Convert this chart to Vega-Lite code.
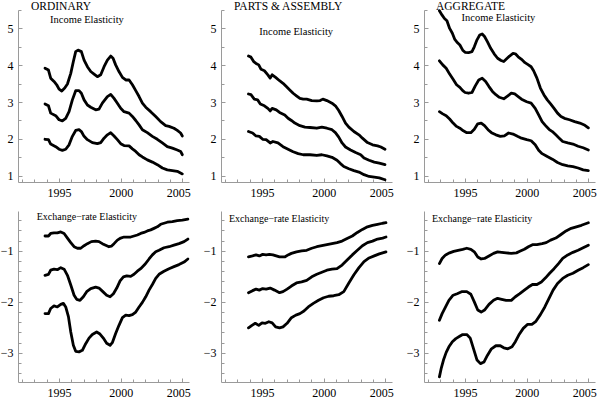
{
"$schema":"https://vega.github.io/schema/vega-lite/v6.json",
"padding":0,
"background":"white",
"columns":3,
"spacing":{"row":13,"column":12},
"datasets":{"d":[
{"panel":"A","band":"u","year":1993.86,"value":3.92},{"panel":"A","band":"u","year":1994.14,"value":3.87},{"panel":"A","band":"u","year":1994.32,"value":3.65},{"panel":"A","band":"u","year":1994.59,"value":3.56},{"panel":"A","band":"u","year":1994.81,"value":3.47},{"panel":"A","band":"u","year":1995.0,"value":3.35},{"panel":"A","band":"u","year":1995.22,"value":3.30},{"panel":"A","band":"u","year":1995.46,"value":3.38},{"panel":"A","band":"u","year":1995.68,"value":3.49},{"panel":"A","band":"u","year":1995.95,"value":3.78},{"panel":"A","band":"u","year":1996.16,"value":4.10},{"panel":"A","band":"u","year":1996.35,"value":4.37},{"panel":"A","band":"u","year":1996.54,"value":4.41},{"panel":"A","band":"u","year":1996.81,"value":4.37},{"panel":"A","band":"u","year":1997.03,"value":4.14},{"panel":"A","band":"u","year":1997.30,"value":3.96},{"panel":"A","band":"u","year":1997.57,"value":3.83},{"panel":"A","band":"u","year":1997.84,"value":3.76},{"panel":"A","band":"u","year":1998.11,"value":3.69},{"panel":"A","band":"u","year":1998.38,"value":3.74},{"panel":"A","band":"u","year":1998.65,"value":3.96},{"panel":"A","band":"u","year":1998.92,"value":4.14},{"panel":"A","band":"u","year":1999.19,"value":4.25},{"panel":"A","band":"u","year":1999.38,"value":4.19},{"panel":"A","band":"u","year":1999.59,"value":4.01},{"panel":"A","band":"u","year":1999.86,"value":3.83},{"panel":"A","band":"u","year":2000.14,"value":3.67},{"panel":"A","band":"u","year":2000.41,"value":3.60},{"panel":"A","band":"u","year":2000.68,"value":3.60},{"panel":"A","band":"u","year":2000.95,"value":3.47},{"panel":"A","band":"u","year":2001.22,"value":3.31},{"panel":"A","band":"u","year":2001.49,"value":3.15},{"panel":"A","band":"u","year":2001.76,"value":2.97},{"panel":"A","band":"u","year":2002.03,"value":2.86},{"panel":"A","band":"u","year":2002.43,"value":2.74},{"panel":"A","band":"u","year":2002.84,"value":2.61},{"panel":"A","band":"u","year":2003.24,"value":2.47},{"panel":"A","band":"u","year":2003.65,"value":2.36},{"panel":"A","band":"u","year":2003.92,"value":2.34},{"panel":"A","band":"u","year":2004.32,"value":2.29},{"panel":"A","band":"u","year":2004.59,"value":2.23},{"panel":"A","band":"u","year":2004.86,"value":2.16},{"panel":"A","band":"u","year":2005.0,"value":2.08},
{"panel":"A","band":"m","year":1993.86,"value":2.95},{"panel":"A","band":"m","year":1994.14,"value":2.90},{"panel":"A","band":"m","year":1994.32,"value":2.70},{"panel":"A","band":"m","year":1994.73,"value":2.63},{"panel":"A","band":"m","year":1995.0,"value":2.52},{"panel":"A","band":"m","year":1995.27,"value":2.49},{"panel":"A","band":"m","year":1995.54,"value":2.56},{"panel":"A","band":"m","year":1995.81,"value":2.74},{"panel":"A","band":"m","year":1996.08,"value":3.06},{"panel":"A","band":"m","year":1996.35,"value":3.31},{"panel":"A","band":"m","year":1996.62,"value":3.31},{"panel":"A","band":"m","year":1996.81,"value":3.24},{"panel":"A","band":"m","year":1997.03,"value":3.06},{"panel":"A","band":"m","year":1997.30,"value":2.92},{"panel":"A","band":"m","year":1997.57,"value":2.86},{"panel":"A","band":"m","year":1997.97,"value":2.79},{"panel":"A","band":"m","year":1998.24,"value":2.81},{"panel":"A","band":"m","year":1998.51,"value":2.97},{"panel":"A","band":"m","year":1998.92,"value":3.15},{"panel":"A","band":"m","year":1999.19,"value":3.21},{"panel":"A","band":"m","year":1999.46,"value":3.10},{"panel":"A","band":"m","year":1999.73,"value":2.97},{"panel":"A","band":"m","year":2000.0,"value":2.83},{"panel":"A","band":"m","year":2000.27,"value":2.74},{"panel":"A","band":"m","year":2000.68,"value":2.70},{"panel":"A","band":"m","year":2000.95,"value":2.61},{"panel":"A","band":"m","year":2001.22,"value":2.50},{"panel":"A","band":"m","year":2001.49,"value":2.38},{"panel":"A","band":"m","year":2001.76,"value":2.25},{"panel":"A","band":"m","year":2002.16,"value":2.17},{"panel":"A","band":"m","year":2002.57,"value":2.07},{"panel":"A","band":"m","year":2002.97,"value":1.99},{"panel":"A","band":"m","year":2003.38,"value":1.89},{"panel":"A","band":"m","year":2003.78,"value":1.79},{"panel":"A","band":"m","year":2004.19,"value":1.75},{"panel":"A","band":"m","year":2004.59,"value":1.70},{"panel":"A","band":"m","year":2004.86,"value":1.66},{"panel":"A","band":"m","year":2005.0,"value":1.57},
{"panel":"A","band":"l","year":1993.86,"value":1.99},{"panel":"A","band":"l","year":1994.14,"value":1.98},{"panel":"A","band":"l","year":1994.32,"value":1.86},{"panel":"A","band":"l","year":1994.73,"value":1.79},{"panel":"A","band":"l","year":1995.0,"value":1.72},{"panel":"A","band":"l","year":1995.27,"value":1.69},{"panel":"A","band":"l","year":1995.54,"value":1.72},{"panel":"A","band":"l","year":1995.81,"value":1.84},{"panel":"A","band":"l","year":1996.08,"value":2.07},{"panel":"A","band":"l","year":1996.35,"value":2.23},{"panel":"A","band":"l","year":1996.62,"value":2.25},{"panel":"A","band":"l","year":1996.81,"value":2.20},{"panel":"A","band":"l","year":1997.03,"value":2.07},{"panel":"A","band":"l","year":1997.30,"value":1.98},{"panel":"A","band":"l","year":1997.70,"value":1.90},{"panel":"A","band":"l","year":1998.11,"value":1.87},{"panel":"A","band":"l","year":1998.38,"value":1.90},{"panel":"A","band":"l","year":1998.65,"value":2.02},{"panel":"A","band":"l","year":1998.92,"value":2.11},{"panel":"A","band":"l","year":1999.19,"value":2.17},{"panel":"A","band":"l","year":1999.46,"value":2.08},{"panel":"A","band":"l","year":1999.73,"value":1.98},{"panel":"A","band":"l","year":2000.0,"value":1.87},{"panel":"A","band":"l","year":2000.27,"value":1.82},{"panel":"A","band":"l","year":2000.68,"value":1.81},{"panel":"A","band":"l","year":2000.95,"value":1.73},{"panel":"A","band":"l","year":2001.22,"value":1.66},{"panel":"A","band":"l","year":2001.49,"value":1.57},{"panel":"A","band":"l","year":2001.76,"value":1.51},{"panel":"A","band":"l","year":2002.16,"value":1.43},{"panel":"A","band":"l","year":2002.57,"value":1.37},{"panel":"A","band":"l","year":2002.97,"value":1.30},{"panel":"A","band":"l","year":2003.38,"value":1.21},{"panel":"A","band":"l","year":2003.78,"value":1.16},{"panel":"A","band":"l","year":2004.19,"value":1.14},{"panel":"A","band":"l","year":2004.59,"value":1.12},{"panel":"A","band":"l","year":2005.0,"value":1.05},
{"panel":"B","band":"u","year":1993.90,"value":4.25},{"panel":"B","band":"u","year":1994.10,"value":4.22},{"panel":"B","band":"u","year":1994.32,"value":4.10},{"panel":"B","band":"u","year":1994.51,"value":4.05},{"panel":"B","band":"u","year":1994.73,"value":4.01},{"panel":"B","band":"u","year":1994.92,"value":3.89},{"panel":"B","band":"u","year":1995.19,"value":3.85},{"panel":"B","band":"u","year":1995.47,"value":3.74},{"panel":"B","band":"u","year":1995.66,"value":3.65},{"panel":"B","band":"u","year":1995.82,"value":3.74},{"panel":"B","band":"u","year":1996.10,"value":3.67},{"panel":"B","band":"u","year":1996.42,"value":3.58},{"panel":"B","band":"u","year":1996.70,"value":3.51},{"panel":"B","band":"u","year":1996.97,"value":3.42},{"panel":"B","band":"u","year":1997.25,"value":3.33},{"panel":"B","band":"u","year":1997.52,"value":3.24},{"panel":"B","band":"u","year":1997.79,"value":3.17},{"panel":"B","band":"u","year":1998.07,"value":3.10},{"panel":"B","band":"u","year":1998.34,"value":3.08},{"panel":"B","band":"u","year":1998.62,"value":3.08},{"panel":"B","band":"u","year":1999.03,"value":3.04},{"panel":"B","band":"u","year":1999.44,"value":3.03},{"panel":"B","band":"u","year":1999.71,"value":3.04},{"panel":"B","band":"u","year":1999.93,"value":3.08},{"panel":"B","band":"u","year":2000.26,"value":3.04},{"panel":"B","band":"u","year":2000.67,"value":2.97},{"panel":"B","band":"u","year":2000.95,"value":2.90},{"panel":"B","band":"u","year":2001.22,"value":2.77},{"panel":"B","band":"u","year":2001.49,"value":2.61},{"panel":"B","band":"u","year":2001.77,"value":2.43},{"panel":"B","band":"u","year":2002.04,"value":2.32},{"panel":"B","band":"u","year":2002.45,"value":2.20},{"panel":"B","band":"u","year":2002.86,"value":2.11},{"panel":"B","band":"u","year":2003.14,"value":2.02},{"panel":"B","band":"u","year":2003.55,"value":1.90},{"panel":"B","band":"u","year":2003.96,"value":1.84},{"panel":"B","band":"u","year":2004.37,"value":1.81},{"panel":"B","band":"u","year":2004.64,"value":1.78},{"panel":"B","band":"u","year":2004.97,"value":1.72},
{"panel":"B","band":"m","year":1993.90,"value":3.22},{"panel":"B","band":"m","year":1994.10,"value":3.20},{"panel":"B","band":"m","year":1994.37,"value":3.08},{"panel":"B","band":"m","year":1994.64,"value":3.06},{"panel":"B","band":"m","year":1994.86,"value":2.95},{"panel":"B","band":"m","year":1995.19,"value":2.90},{"panel":"B","band":"m","year":1995.47,"value":2.83},{"panel":"B","band":"m","year":1995.66,"value":2.76},{"panel":"B","band":"m","year":1995.82,"value":2.83},{"panel":"B","band":"m","year":1996.15,"value":2.79},{"panel":"B","band":"m","year":1996.42,"value":2.72},{"panel":"B","band":"m","year":1996.84,"value":2.65},{"panel":"B","band":"m","year":1997.11,"value":2.56},{"panel":"B","band":"m","year":1997.38,"value":2.50},{"panel":"B","band":"m","year":1997.66,"value":2.43},{"panel":"B","band":"m","year":1998.07,"value":2.36},{"panel":"B","band":"m","year":1998.48,"value":2.32},{"panel":"B","band":"m","year":1998.89,"value":2.31},{"panel":"B","band":"m","year":1999.44,"value":2.29},{"panel":"B","band":"m","year":1999.85,"value":2.32},{"panel":"B","band":"m","year":2000.26,"value":2.29},{"panel":"B","band":"m","year":2000.67,"value":2.25},{"panel":"B","band":"m","year":2000.95,"value":2.17},{"panel":"B","band":"m","year":2001.22,"value":2.05},{"panel":"B","band":"m","year":2001.49,"value":1.89},{"panel":"B","band":"m","year":2001.77,"value":1.78},{"panel":"B","band":"m","year":2002.18,"value":1.70},{"panel":"B","band":"m","year":2002.59,"value":1.63},{"panel":"B","band":"m","year":2003.0,"value":1.57},{"panel":"B","band":"m","year":2003.27,"value":1.48},{"panel":"B","band":"m","year":2003.68,"value":1.42},{"panel":"B","band":"m","year":2004.10,"value":1.37},{"panel":"B","band":"m","year":2004.51,"value":1.34},{"panel":"B","band":"m","year":2004.97,"value":1.30},
{"panel":"B","band":"l","year":1993.90,"value":2.20},{"panel":"B","band":"l","year":1994.23,"value":2.16},{"panel":"B","band":"l","year":1994.51,"value":2.08},{"panel":"B","band":"l","year":1994.78,"value":2.07},{"panel":"B","band":"l","year":1995.05,"value":1.99},{"panel":"B","band":"l","year":1995.33,"value":1.98},{"panel":"B","band":"l","year":1995.66,"value":1.89},{"panel":"B","band":"l","year":1995.88,"value":1.93},{"panel":"B","band":"l","year":1996.29,"value":1.89},{"panel":"B","band":"l","year":1996.70,"value":1.79},{"panel":"B","band":"l","year":1997.11,"value":1.72},{"panel":"B","band":"l","year":1997.52,"value":1.65},{"panel":"B","band":"l","year":1997.93,"value":1.60},{"panel":"B","band":"l","year":1998.34,"value":1.57},{"panel":"B","band":"l","year":1998.89,"value":1.57},{"panel":"B","band":"l","year":1999.44,"value":1.55},{"panel":"B","band":"l","year":1999.85,"value":1.57},{"panel":"B","band":"l","year":2000.26,"value":1.54},{"panel":"B","band":"l","year":2000.67,"value":1.50},{"panel":"B","band":"l","year":2001.08,"value":1.42},{"panel":"B","band":"l","year":2001.36,"value":1.33},{"panel":"B","band":"l","year":2001.63,"value":1.25},{"panel":"B","band":"l","year":2002.04,"value":1.19},{"panel":"B","band":"l","year":2002.45,"value":1.14},{"panel":"B","band":"l","year":2002.86,"value":1.10},{"panel":"B","band":"l","year":2003.27,"value":1.03},{"panel":"B","band":"l","year":2003.68,"value":0.98},{"panel":"B","band":"l","year":2004.10,"value":0.96},{"panel":"B","band":"l","year":2004.51,"value":0.94},{"panel":"B","band":"l","year":2004.97,"value":0.89},
{"panel":"C","band":"u","year":1992.92,"value":5.48},{"panel":"C","band":"u","year":1993.14,"value":5.36},{"panel":"C","band":"u","year":1993.33,"value":5.27},{"panel":"C","band":"u","year":1993.53,"value":5.21},{"panel":"C","band":"u","year":1993.75,"value":5.00},{"panel":"C","band":"u","year":1993.97,"value":4.87},{"panel":"C","band":"u","year":1994.17,"value":4.70},{"panel":"C","band":"u","year":1994.39,"value":4.61},{"panel":"C","band":"u","year":1994.58,"value":4.55},{"panel":"C","band":"u","year":1994.81,"value":4.41},{"panel":"C","band":"u","year":1995.0,"value":4.35},{"panel":"C","band":"u","year":1995.28,"value":4.34},{"panel":"C","band":"u","year":1995.56,"value":4.37},{"panel":"C","band":"u","year":1995.75,"value":4.50},{"panel":"C","band":"u","year":1995.97,"value":4.69},{"panel":"C","band":"u","year":1996.19,"value":4.82},{"panel":"C","band":"u","year":1996.39,"value":4.85},{"panel":"C","band":"u","year":1996.58,"value":4.78},{"panel":"C","band":"u","year":1996.81,"value":4.64},{"panel":"C","band":"u","year":1997.08,"value":4.46},{"panel":"C","band":"u","year":1997.36,"value":4.31},{"panel":"C","band":"u","year":1997.64,"value":4.19},{"panel":"C","band":"u","year":1997.92,"value":4.13},{"panel":"C","band":"u","year":1998.14,"value":4.10},{"panel":"C","band":"u","year":1998.33,"value":4.16},{"panel":"C","band":"u","year":1998.61,"value":4.25},{"panel":"C","band":"u","year":1998.89,"value":4.32},{"panel":"C","band":"u","year":1999.08,"value":4.31},{"panel":"C","band":"u","year":1999.31,"value":4.23},{"panel":"C","band":"u","year":1999.58,"value":4.16},{"panel":"C","band":"u","year":1999.86,"value":4.07},{"panel":"C","band":"u","year":2000.14,"value":4.01},{"panel":"C","band":"u","year":2000.36,"value":3.96},{"panel":"C","band":"u","year":2000.56,"value":3.85},{"panel":"C","band":"u","year":2000.83,"value":3.65},{"panel":"C","band":"u","year":2001.11,"value":3.38},{"panel":"C","band":"u","year":2001.39,"value":3.20},{"panel":"C","band":"u","year":2001.67,"value":3.06},{"panel":"C","band":"u","year":2001.94,"value":2.95},{"panel":"C","band":"u","year":2002.22,"value":2.83},{"panel":"C","band":"u","year":2002.50,"value":2.70},{"panel":"C","band":"u","year":2002.78,"value":2.61},{"panel":"C","band":"u","year":2003.06,"value":2.56},{"panel":"C","band":"u","year":2003.47,"value":2.52},{"panel":"C","band":"u","year":2003.89,"value":2.47},{"panel":"C","band":"u","year":2004.31,"value":2.43},{"panel":"C","band":"u","year":2004.72,"value":2.37},{"panel":"C","band":"u","year":2005.0,"value":2.30},
{"panel":"C","band":"m","year":1992.92,"value":4.12},{"panel":"C","band":"m","year":1993.19,"value":4.01},{"panel":"C","band":"m","year":1993.47,"value":3.92},{"panel":"C","band":"m","year":1993.75,"value":3.76},{"panel":"C","band":"m","year":1994.03,"value":3.62},{"panel":"C","band":"m","year":1994.31,"value":3.47},{"panel":"C","band":"m","year":1994.58,"value":3.40},{"panel":"C","band":"m","year":1994.81,"value":3.31},{"panel":"C","band":"m","year":1995.0,"value":3.26},{"panel":"C","band":"m","year":1995.28,"value":3.24},{"panel":"C","band":"m","year":1995.56,"value":3.26},{"panel":"C","band":"m","year":1995.83,"value":3.44},{"panel":"C","band":"m","year":1996.11,"value":3.60},{"panel":"C","band":"m","year":1996.39,"value":3.65},{"panel":"C","band":"m","year":1996.67,"value":3.56},{"panel":"C","band":"m","year":1996.94,"value":3.42},{"panel":"C","band":"m","year":1997.22,"value":3.29},{"panel":"C","band":"m","year":1997.50,"value":3.20},{"panel":"C","band":"m","year":1997.78,"value":3.13},{"panel":"C","band":"m","year":1998.14,"value":3.09},{"panel":"C","band":"m","year":1998.47,"value":3.17},{"panel":"C","band":"m","year":1998.75,"value":3.24},{"panel":"C","band":"m","year":1999.03,"value":3.22},{"panel":"C","band":"m","year":1999.31,"value":3.15},{"panel":"C","band":"m","year":1999.58,"value":3.08},{"panel":"C","band":"m","year":2000.0,"value":3.01},{"panel":"C","band":"m","year":2000.36,"value":2.97},{"panel":"C","band":"m","year":2000.69,"value":2.83},{"panel":"C","band":"m","year":2000.97,"value":2.65},{"panel":"C","band":"m","year":2001.25,"value":2.47},{"panel":"C","band":"m","year":2001.53,"value":2.36},{"panel":"C","band":"m","year":2001.81,"value":2.26},{"panel":"C","band":"m","year":2002.08,"value":2.20},{"panel":"C","band":"m","year":2002.36,"value":2.11},{"panel":"C","band":"m","year":2002.64,"value":2.02},{"panel":"C","band":"m","year":2002.92,"value":1.93},{"panel":"C","band":"m","year":2003.33,"value":1.89},{"panel":"C","band":"m","year":2003.75,"value":1.86},{"panel":"C","band":"m","year":2004.17,"value":1.80},{"panel":"C","band":"m","year":2004.58,"value":1.76},{"panel":"C","band":"m","year":2005.0,"value":1.70},
{"panel":"C","band":"l","year":1992.92,"value":2.74},{"panel":"C","band":"l","year":1993.19,"value":2.68},{"panel":"C","band":"l","year":1993.47,"value":2.63},{"panel":"C","band":"l","year":1993.75,"value":2.54},{"panel":"C","band":"l","year":1994.03,"value":2.43},{"panel":"C","band":"l","year":1994.31,"value":2.34},{"panel":"C","band":"l","year":1994.58,"value":2.29},{"panel":"C","band":"l","year":1994.86,"value":2.22},{"panel":"C","band":"l","year":1995.14,"value":2.17},{"panel":"C","band":"l","year":1995.47,"value":2.17},{"panel":"C","band":"l","year":1995.75,"value":2.26},{"panel":"C","band":"l","year":1996.03,"value":2.41},{"panel":"C","band":"l","year":1996.31,"value":2.43},{"panel":"C","band":"l","year":1996.58,"value":2.36},{"panel":"C","band":"l","year":1996.86,"value":2.25},{"panel":"C","band":"l","year":1997.14,"value":2.17},{"panel":"C","band":"l","year":1997.50,"value":2.11},{"panel":"C","band":"l","year":1997.86,"value":2.07},{"panel":"C","band":"l","year":1998.19,"value":2.08},{"panel":"C","band":"l","year":1998.53,"value":2.16},{"panel":"C","band":"l","year":1998.89,"value":2.13},{"panel":"C","band":"l","year":1999.25,"value":2.07},{"panel":"C","band":"l","year":1999.58,"value":2.02},{"panel":"C","band":"l","year":2000.0,"value":1.98},{"panel":"C","band":"l","year":2000.36,"value":1.95},{"panel":"C","band":"l","year":2000.69,"value":1.84},{"panel":"C","band":"l","year":2000.97,"value":1.69},{"panel":"C","band":"l","year":2001.25,"value":1.60},{"panel":"C","band":"l","year":2001.67,"value":1.52},{"panel":"C","band":"l","year":2002.08,"value":1.45},{"panel":"C","band":"l","year":2002.50,"value":1.36},{"panel":"C","band":"l","year":2002.92,"value":1.30},{"panel":"C","band":"l","year":2003.33,"value":1.27},{"panel":"C","band":"l","year":2003.75,"value":1.25},{"panel":"C","band":"l","year":2004.17,"value":1.21},{"panel":"C","band":"l","year":2004.58,"value":1.16},{"panel":"C","band":"l","year":2005.0,"value":1.14},
{"panel":"D","band":"u","year":1993.86,"value":-0.71},{"panel":"D","band":"u","year":1994.14,"value":-0.71},{"panel":"D","band":"u","year":1994.32,"value":-0.66},{"panel":"D","band":"u","year":1994.59,"value":-0.65},{"panel":"D","band":"u","year":1994.86,"value":-0.65},{"panel":"D","band":"u","year":1995.14,"value":-0.63},{"panel":"D","band":"u","year":1995.41,"value":-0.66},{"panel":"D","band":"u","year":1995.68,"value":-0.75},{"panel":"D","band":"u","year":1995.95,"value":-0.84},{"panel":"D","band":"u","year":1996.22,"value":-0.92},{"panel":"D","band":"u","year":1996.49,"value":-0.95},{"panel":"D","band":"u","year":1996.76,"value":-0.95},{"panel":"D","band":"u","year":1997.03,"value":-0.90},{"panel":"D","band":"u","year":1997.30,"value":-0.86},{"panel":"D","band":"u","year":1997.62,"value":-0.82},{"panel":"D","band":"u","year":1997.97,"value":-0.81},{"panel":"D","band":"u","year":1998.24,"value":-0.82},{"panel":"D","band":"u","year":1998.51,"value":-0.86},{"panel":"D","band":"u","year":1998.78,"value":-0.89},{"panel":"D","band":"u","year":1999.05,"value":-0.92},{"panel":"D","band":"u","year":1999.24,"value":-0.91},{"panel":"D","band":"u","year":1999.46,"value":-0.86},{"panel":"D","band":"u","year":1999.73,"value":-0.79},{"panel":"D","band":"u","year":2000.0,"value":-0.75},{"panel":"D","band":"u","year":2000.27,"value":-0.73},{"panel":"D","band":"u","year":2000.54,"value":-0.73},{"panel":"D","band":"u","year":2000.81,"value":-0.73},{"panel":"D","band":"u","year":2001.08,"value":-0.71},{"panel":"D","band":"u","year":2001.35,"value":-0.69},{"panel":"D","band":"u","year":2001.62,"value":-0.66},{"panel":"D","band":"u","year":2001.89,"value":-0.64},{"panel":"D","band":"u","year":2002.16,"value":-0.61},{"panel":"D","band":"u","year":2002.43,"value":-0.59},{"panel":"D","band":"u","year":2002.70,"value":-0.56},{"panel":"D","band":"u","year":2002.97,"value":-0.53},{"panel":"D","band":"u","year":2003.24,"value":-0.48},{"panel":"D","band":"u","year":2003.51,"value":-0.46},{"panel":"D","band":"u","year":2003.78,"value":-0.44},{"panel":"D","band":"u","year":2004.19,"value":-0.43},{"panel":"D","band":"u","year":2004.59,"value":-0.41},{"panel":"D","band":"u","year":2005.0,"value":-0.40},{"panel":"D","band":"u","year":2005.45,"value":-0.38},
{"panel":"D","band":"m","year":1993.86,"value":-1.48},{"panel":"D","band":"m","year":1994.14,"value":-1.46},{"panel":"D","band":"m","year":1994.32,"value":-1.38},{"panel":"D","band":"m","year":1994.59,"value":-1.36},{"panel":"D","band":"m","year":1994.86,"value":-1.37},{"panel":"D","band":"m","year":1995.14,"value":-1.33},{"panel":"D","band":"m","year":1995.41,"value":-1.36},{"panel":"D","band":"m","year":1995.68,"value":-1.48},{"panel":"D","band":"m","year":1995.95,"value":-1.67},{"panel":"D","band":"m","year":1996.22,"value":-1.87},{"panel":"D","band":"m","year":1996.43,"value":-1.95},{"panel":"D","band":"m","year":1996.70,"value":-1.97},{"panel":"D","band":"m","year":1996.97,"value":-1.90},{"panel":"D","band":"m","year":1997.24,"value":-1.80},{"panel":"D","band":"m","year":1997.57,"value":-1.74},{"panel":"D","band":"m","year":1997.97,"value":-1.71},{"panel":"D","band":"m","year":1998.24,"value":-1.73},{"panel":"D","band":"m","year":1998.51,"value":-1.79},{"panel":"D","band":"m","year":1998.86,"value":-1.87},{"panel":"D","band":"m","year":1999.14,"value":-1.90},{"panel":"D","band":"m","year":1999.41,"value":-1.84},{"panel":"D","band":"m","year":1999.68,"value":-1.73},{"panel":"D","band":"m","year":1999.95,"value":-1.59},{"panel":"D","band":"m","year":2000.22,"value":-1.51},{"panel":"D","band":"m","year":2000.49,"value":-1.49},{"panel":"D","band":"m","year":2000.81,"value":-1.50},{"panel":"D","band":"m","year":2001.08,"value":-1.46},{"panel":"D","band":"m","year":2001.35,"value":-1.40},{"panel":"D","band":"m","year":2001.62,"value":-1.35},{"panel":"D","band":"m","year":2001.95,"value":-1.27},{"panel":"D","band":"m","year":2002.30,"value":-1.16},{"panel":"D","band":"m","year":2002.57,"value":-1.08},{"panel":"D","band":"m","year":2002.84,"value":-1.02},{"panel":"D","band":"m","year":2003.11,"value":-0.99},{"panel":"D","band":"m","year":2003.51,"value":-0.94},{"panel":"D","band":"m","year":2003.92,"value":-0.92},{"panel":"D","band":"m","year":2004.32,"value":-0.89},{"panel":"D","band":"m","year":2004.73,"value":-0.86},{"panel":"D","band":"m","year":2005.14,"value":-0.82},{"panel":"D","band":"m","year":2005.45,"value":-0.77},
{"panel":"D","band":"l","year":1993.86,"value":-2.23},{"panel":"D","band":"l","year":1994.14,"value":-2.23},{"panel":"D","band":"l","year":1994.32,"value":-2.13},{"panel":"D","band":"l","year":1994.59,"value":-2.08},{"panel":"D","band":"l","year":1994.86,"value":-2.10},{"panel":"D","band":"l","year":1995.14,"value":-2.05},{"panel":"D","band":"l","year":1995.35,"value":-2.03},{"panel":"D","band":"l","year":1995.54,"value":-2.10},{"panel":"D","band":"l","year":1995.76,"value":-2.29},{"panel":"D","band":"l","year":1995.95,"value":-2.59},{"panel":"D","band":"l","year":1996.16,"value":-2.85},{"panel":"D","band":"l","year":1996.35,"value":-2.97},{"panel":"D","band":"l","year":1996.62,"value":-2.98},{"panel":"D","band":"l","year":1996.89,"value":-2.95},{"panel":"D","band":"l","year":1997.16,"value":-2.82},{"panel":"D","band":"l","year":1997.43,"value":-2.71},{"panel":"D","band":"l","year":1997.70,"value":-2.64},{"panel":"D","band":"l","year":1998.05,"value":-2.59},{"panel":"D","band":"l","year":1998.32,"value":-2.63},{"panel":"D","band":"l","year":1998.59,"value":-2.71},{"panel":"D","band":"l","year":1998.86,"value":-2.81},{"panel":"D","band":"l","year":1999.14,"value":-2.85},{"panel":"D","band":"l","year":1999.32,"value":-2.80},{"panel":"D","band":"l","year":1999.59,"value":-2.62},{"panel":"D","band":"l","year":1999.86,"value":-2.46},{"panel":"D","band":"l","year":2000.14,"value":-2.31},{"panel":"D","band":"l","year":2000.41,"value":-2.26},{"panel":"D","band":"l","year":2000.68,"value":-2.27},{"panel":"D","band":"l","year":2000.95,"value":-2.25},{"panel":"D","band":"l","year":2001.22,"value":-2.20},{"panel":"D","band":"l","year":2001.49,"value":-2.10},{"panel":"D","band":"l","year":2001.76,"value":-2.01},{"panel":"D","band":"l","year":2002.03,"value":-1.90},{"panel":"D","band":"l","year":2002.30,"value":-1.77},{"panel":"D","band":"l","year":2002.57,"value":-1.66},{"panel":"D","band":"l","year":2002.84,"value":-1.54},{"panel":"D","band":"l","year":2003.11,"value":-1.46},{"panel":"D","band":"l","year":2003.51,"value":-1.40},{"panel":"D","band":"l","year":2003.92,"value":-1.35},{"panel":"D","band":"l","year":2004.32,"value":-1.31},{"panel":"D","band":"l","year":2004.73,"value":-1.27},{"panel":"D","band":"l","year":2005.14,"value":-1.22},{"panel":"D","band":"l","year":2005.45,"value":-1.16},
{"panel":"E","band":"u","year":1993.90,"value":-1.12},{"panel":"E","band":"u","year":1994.23,"value":-1.10},{"panel":"E","band":"u","year":1994.51,"value":-1.08},{"panel":"E","band":"u","year":1994.78,"value":-1.10},{"panel":"E","band":"u","year":1995.05,"value":-1.07},{"panel":"E","band":"u","year":1995.33,"value":-1.08},{"panel":"E","band":"u","year":1995.60,"value":-1.07},{"panel":"E","band":"u","year":1995.88,"value":-1.08},{"panel":"E","band":"u","year":1996.15,"value":-1.10},{"panel":"E","band":"u","year":1996.42,"value":-1.12},{"panel":"E","band":"u","year":1996.84,"value":-1.12},{"panel":"E","band":"u","year":1997.11,"value":-1.08},{"panel":"E","band":"u","year":1997.38,"value":-1.05},{"panel":"E","band":"u","year":1997.79,"value":-1.02},{"panel":"E","band":"u","year":1998.21,"value":-1.00},{"panel":"E","band":"u","year":1998.62,"value":-0.99},{"panel":"E","band":"u","year":1999.03,"value":-0.95},{"panel":"E","band":"u","year":1999.44,"value":-0.92},{"panel":"E","band":"u","year":1999.85,"value":-0.90},{"panel":"E","band":"u","year":2000.26,"value":-0.88},{"panel":"E","band":"u","year":2000.67,"value":-0.86},{"panel":"E","band":"u","year":2001.08,"value":-0.84},{"panel":"E","band":"u","year":2001.49,"value":-0.81},{"panel":"E","band":"u","year":2001.90,"value":-0.76},{"panel":"E","band":"u","year":2002.32,"value":-0.71},{"panel":"E","band":"u","year":2002.73,"value":-0.64},{"panel":"E","band":"u","year":2003.14,"value":-0.58},{"panel":"E","band":"u","year":2003.55,"value":-0.53},{"panel":"E","band":"u","year":2003.96,"value":-0.50},{"panel":"E","band":"u","year":2004.37,"value":-0.48},{"panel":"E","band":"u","year":2004.78,"value":-0.46},{"panel":"E","band":"u","year":2005.05,"value":-0.45},
{"panel":"E","band":"m","year":1993.90,"value":-1.82},{"panel":"E","band":"m","year":1994.23,"value":-1.78},{"panel":"E","band":"m","year":1994.51,"value":-1.75},{"panel":"E","band":"m","year":1994.78,"value":-1.77},{"panel":"E","band":"m","year":1995.05,"value":-1.74},{"panel":"E","band":"m","year":1995.33,"value":-1.75},{"panel":"E","band":"m","year":1995.66,"value":-1.73},{"panel":"E","band":"m","year":1996.01,"value":-1.77},{"panel":"E","band":"m","year":1996.42,"value":-1.82},{"panel":"E","band":"m","year":1996.70,"value":-1.80},{"panel":"E","band":"m","year":1997.03,"value":-1.75},{"panel":"E","band":"m","year":1997.38,"value":-1.69},{"panel":"E","band":"m","year":1997.79,"value":-1.63},{"panel":"E","band":"m","year":1998.21,"value":-1.61},{"panel":"E","band":"m","year":1998.62,"value":-1.58},{"panel":"E","band":"m","year":1999.03,"value":-1.51},{"panel":"E","band":"m","year":1999.44,"value":-1.46},{"panel":"E","band":"m","year":1999.85,"value":-1.42},{"panel":"E","band":"m","year":2000.26,"value":-1.38},{"panel":"E","band":"m","year":2000.67,"value":-1.36},{"panel":"E","band":"m","year":2001.08,"value":-1.35},{"panel":"E","band":"m","year":2001.49,"value":-1.28},{"panel":"E","band":"m","year":2001.90,"value":-1.18},{"panel":"E","band":"m","year":2002.32,"value":-1.08},{"panel":"E","band":"m","year":2002.73,"value":-0.99},{"panel":"E","band":"m","year":2003.14,"value":-0.90},{"panel":"E","band":"m","year":2003.55,"value":-0.84},{"panel":"E","band":"m","year":2003.96,"value":-0.81},{"panel":"E","band":"m","year":2004.37,"value":-0.77},{"panel":"E","band":"m","year":2004.78,"value":-0.75},{"panel":"E","band":"m","year":2005.05,"value":-0.73},
{"panel":"E","band":"l","year":1993.90,"value":-2.51},{"panel":"E","band":"l","year":1994.18,"value":-2.46},{"panel":"E","band":"l","year":1994.45,"value":-2.42},{"panel":"E","band":"l","year":1994.73,"value":-2.46},{"panel":"E","band":"l","year":1995.0,"value":-2.41},{"panel":"E","band":"l","year":1995.27,"value":-2.42},{"panel":"E","band":"l","year":1995.55,"value":-2.39},{"panel":"E","band":"l","year":1995.82,"value":-2.41},{"panel":"E","band":"l","year":1996.10,"value":-2.49},{"panel":"E","band":"l","year":1996.42,"value":-2.51},{"panel":"E","band":"l","year":1996.70,"value":-2.49},{"panel":"E","band":"l","year":1997.03,"value":-2.42},{"panel":"E","band":"l","year":1997.38,"value":-2.31},{"panel":"E","band":"l","year":1997.74,"value":-2.26},{"panel":"E","band":"l","year":1998.07,"value":-2.23},{"panel":"E","band":"l","year":1998.40,"value":-2.18},{"panel":"E","band":"l","year":1998.75,"value":-2.10},{"panel":"E","band":"l","year":1999.16,"value":-2.03},{"panel":"E","band":"l","year":1999.58,"value":-1.97},{"panel":"E","band":"l","year":1999.99,"value":-1.92},{"panel":"E","band":"l","year":2000.40,"value":-1.89},{"panel":"E","band":"l","year":2000.81,"value":-1.88},{"panel":"E","band":"l","year":2001.22,"value":-1.86},{"panel":"E","band":"l","year":2001.63,"value":-1.80},{"panel":"E","band":"l","year":2002.04,"value":-1.63},{"panel":"E","band":"l","year":2002.45,"value":-1.47},{"panel":"E","band":"l","year":2002.86,"value":-1.33},{"panel":"E","band":"l","year":2003.27,"value":-1.21},{"panel":"E","band":"l","year":2003.68,"value":-1.14},{"panel":"E","band":"l","year":2004.10,"value":-1.10},{"panel":"E","band":"l","year":2004.51,"value":-1.06},{"panel":"E","band":"l","year":2005.05,"value":-1.02},
{"panel":"F","band":"u","year":1992.92,"value":-1.25},{"panel":"F","band":"u","year":1993.14,"value":-1.15},{"panel":"F","band":"u","year":1993.42,"value":-1.08},{"panel":"F","band":"u","year":1993.75,"value":-1.04},{"panel":"F","band":"u","year":1994.08,"value":-1.01},{"panel":"F","band":"u","year":1994.44,"value":-0.99},{"panel":"F","band":"u","year":1994.81,"value":-0.97},{"panel":"F","band":"u","year":1995.14,"value":-0.95},{"panel":"F","band":"u","year":1995.47,"value":-0.97},{"panel":"F","band":"u","year":1995.75,"value":-1.02},{"panel":"F","band":"u","year":1996.03,"value":-1.12},{"panel":"F","band":"u","year":1996.31,"value":-1.16},{"panel":"F","band":"u","year":1996.58,"value":-1.15},{"panel":"F","band":"u","year":1996.94,"value":-1.10},{"panel":"F","band":"u","year":1997.31,"value":-1.05},{"panel":"F","band":"u","year":1997.64,"value":-1.02},{"panel":"F","band":"u","year":1997.97,"value":-1.03},{"panel":"F","band":"u","year":1998.33,"value":-1.04},{"panel":"F","band":"u","year":1998.75,"value":-1.05},{"panel":"F","band":"u","year":1999.17,"value":-1.04},{"panel":"F","band":"u","year":1999.44,"value":-1.01},{"panel":"F","band":"u","year":1999.81,"value":-0.97},{"panel":"F","band":"u","year":2000.14,"value":-0.92},{"panel":"F","band":"u","year":2000.47,"value":-0.88},{"panel":"F","band":"u","year":2000.83,"value":-0.88},{"panel":"F","band":"u","year":2001.25,"value":-0.86},{"panel":"F","band":"u","year":2001.58,"value":-0.84},{"panel":"F","band":"u","year":2001.94,"value":-0.79},{"panel":"F","band":"u","year":2002.36,"value":-0.75},{"panel":"F","band":"u","year":2002.78,"value":-0.68},{"panel":"F","band":"u","year":2003.19,"value":-0.61},{"panel":"F","band":"u","year":2003.61,"value":-0.56},{"panel":"F","band":"u","year":2004.03,"value":-0.53},{"panel":"F","band":"u","year":2004.44,"value":-0.50},{"panel":"F","band":"u","year":2005.0,"value":-0.45},
{"panel":"F","band":"m","year":1992.92,"value":-2.36},{"panel":"F","band":"m","year":1993.14,"value":-2.23},{"panel":"F","band":"m","year":1993.42,"value":-2.10},{"panel":"F","band":"m","year":1993.69,"value":-1.97},{"panel":"F","band":"m","year":1994.03,"value":-1.87},{"panel":"F","band":"m","year":1994.36,"value":-1.84},{"panel":"F","band":"m","year":1994.72,"value":-1.80},{"panel":"F","band":"m","year":1995.14,"value":-1.80},{"panel":"F","band":"m","year":1995.47,"value":-1.85},{"panel":"F","band":"m","year":1995.75,"value":-2.00},{"panel":"F","band":"m","year":1996.03,"value":-2.16},{"panel":"F","band":"m","year":1996.31,"value":-2.20},{"panel":"F","band":"m","year":1996.58,"value":-2.16},{"panel":"F","band":"m","year":1996.94,"value":-2.05},{"panel":"F","band":"m","year":1997.31,"value":-1.97},{"panel":"F","band":"m","year":1997.64,"value":-1.93},{"panel":"F","band":"m","year":1997.97,"value":-1.95},{"panel":"F","band":"m","year":1998.33,"value":-1.97},{"panel":"F","band":"m","year":1998.75,"value":-1.97},{"panel":"F","band":"m","year":1999.08,"value":-1.90},{"panel":"F","band":"m","year":1999.44,"value":-1.84},{"panel":"F","band":"m","year":1999.81,"value":-1.77},{"panel":"F","band":"m","year":2000.14,"value":-1.71},{"panel":"F","band":"m","year":2000.47,"value":-1.66},{"panel":"F","band":"m","year":2000.83,"value":-1.66},{"panel":"F","band":"m","year":2001.19,"value":-1.61},{"panel":"F","band":"m","year":2001.53,"value":-1.53},{"panel":"F","band":"m","year":2001.86,"value":-1.44},{"panel":"F","band":"m","year":2002.22,"value":-1.35},{"panel":"F","band":"m","year":2002.58,"value":-1.25},{"panel":"F","band":"m","year":2002.92,"value":-1.15},{"panel":"F","band":"m","year":2003.33,"value":-1.08},{"panel":"F","band":"m","year":2003.75,"value":-1.03},{"panel":"F","band":"m","year":2004.17,"value":-0.99},{"panel":"F","band":"m","year":2004.58,"value":-0.94},{"panel":"F","band":"m","year":2005.0,"value":-0.89},
{"panel":"F","band":"l","year":1992.92,"value":-3.47},{"panel":"F","band":"l","year":1993.06,"value":-3.31},{"panel":"F","band":"l","year":1993.25,"value":-3.14},{"panel":"F","band":"l","year":1993.47,"value":-2.99},{"panel":"F","band":"l","year":1993.69,"value":-2.88},{"panel":"F","band":"l","year":1993.97,"value":-2.78},{"panel":"F","band":"l","year":1994.25,"value":-2.72},{"panel":"F","band":"l","year":1994.53,"value":-2.68},{"panel":"F","band":"l","year":1994.81,"value":-2.64},{"panel":"F","band":"l","year":1995.14,"value":-2.64},{"panel":"F","band":"l","year":1995.42,"value":-2.71},{"panel":"F","band":"l","year":1995.69,"value":-2.92},{"panel":"F","band":"l","year":1995.97,"value":-3.14},{"panel":"F","band":"l","year":1996.25,"value":-3.21},{"panel":"F","band":"l","year":1996.53,"value":-3.18},{"panel":"F","band":"l","year":1996.81,"value":-3.05},{"panel":"F","band":"l","year":1997.14,"value":-2.92},{"panel":"F","band":"l","year":1997.50,"value":-2.86},{"panel":"F","band":"l","year":1997.86,"value":-2.86},{"panel":"F","band":"l","year":1998.14,"value":-2.90},{"panel":"F","band":"l","year":1998.47,"value":-2.92},{"panel":"F","band":"l","year":1998.81,"value":-2.88},{"panel":"F","band":"l","year":1999.08,"value":-2.78},{"panel":"F","band":"l","year":1999.36,"value":-2.65},{"panel":"F","band":"l","year":1999.72,"value":-2.52},{"panel":"F","band":"l","year":2000.08,"value":-2.44},{"panel":"F","band":"l","year":2000.42,"value":-2.44},{"panel":"F","band":"l","year":2000.75,"value":-2.38},{"panel":"F","band":"l","year":2001.11,"value":-2.25},{"panel":"F","band":"l","year":2001.47,"value":-2.10},{"panel":"F","band":"l","year":2001.81,"value":-1.93},{"panel":"F","band":"l","year":2002.14,"value":-1.77},{"panel":"F","band":"l","year":2002.50,"value":-1.64},{"panel":"F","band":"l","year":2002.92,"value":-1.54},{"panel":"F","band":"l","year":2003.33,"value":-1.48},{"panel":"F","band":"l","year":2003.75,"value":-1.44},{"panel":"F","band":"l","year":2004.17,"value":-1.38},{"panel":"F","band":"l","year":2004.58,"value":-1.33},{"panel":"F","band":"l","year":2005.0,"value":-1.27}
]},
"concat":[
{"title":{"text":"ORDINARY","anchor":"start","frame":"group","dx":13},"width":171,"height":172,"resolve":{"axis":{"x":"independent","y":"independent"}},"layer":[
 {"data":{"name":"d"},"transform":[{"filter":"datum.panel == 'A'"}],"mark":{"type":"line","color":"black","strokeWidth":2.8,"strokeJoin":"round","strokeCap":"round"},
  "encoding":{"x":{"field":"year","type":"quantitative","scale":{"domain":[1991.67,2005.54],"nice":false,"zero":false},"axis":{"title":null,"orient":"bottom","values":[1995,2000,2005],"format":"d","tickSize":-4,"labelPadding":9,"labelFlush":10,"labelFlushOffset":8}},
   "y":{"field":"value","type":"quantitative","scale":{"domain":[0.83,5.5],"nice":false,"zero":false},"axis":{"title":null,"orient":"left","values":[1,2,3,4,5],"format":"d","tickSize":-4,"labelPadding":9}},
   "detail":{"field":"band"}}},
 {"data":{"values":[{}]},"mark":{"type":"text","align":"left","baseline":"middle","fontSize":10.5,"font":"Liberation Serif","color":"black"},
  "encoding":{"x":{"datum":1994.27,"type":"quantitative","axis":{"title":null,"orient":"bottom","values":[1992,1993,1994,1995,1996,1997,1998,1999,2000,2001,2002,2003,2004,2005],"labels":false,"domain":false}},
   "y":{"datum":5.22,"type":"quantitative","axis":{"title":null,"orient":"left","values":[1,1.5,2,2.5,3,3.5,4,4.5,5,5.5],"labels":false,"domain":false}},
   "text":{"value":"Income Elasticity"}}}
]},
{"title":{"text":"PARTS & ASSEMBLY","anchor":"start","frame":"group","dx":13},"width":171,"height":172,"resolve":{"axis":{"x":"independent","y":"independent"}},"layer":[
 {"data":{"name":"d"},"transform":[{"filter":"datum.panel == 'B'"}],"mark":{"type":"line","color":"black","strokeWidth":2.8,"strokeJoin":"round","strokeCap":"round"},
  "encoding":{"x":{"field":"year","type":"quantitative","scale":{"domain":[1991.67,2005.54],"nice":false,"zero":false},"axis":{"title":null,"orient":"bottom","values":[1995,2000,2005],"format":"d","tickSize":-4,"labelPadding":9,"labelFlush":10,"labelFlushOffset":8}},
   "y":{"field":"value","type":"quantitative","scale":{"domain":[0.83,5.5],"nice":false,"zero":false},"axis":{"title":null,"orient":"left","values":[1,2,3,4,5],"format":"d","tickSize":-4,"labelPadding":9}},
   "detail":{"field":"band"}}},
 {"data":{"values":[{}]},"mark":{"type":"text","align":"left","baseline":"middle","fontSize":10.5,"font":"Liberation Serif","color":"black"},
  "encoding":{"x":{"datum":1994.78,"type":"quantitative","axis":{"title":null,"orient":"bottom","values":[1992,1993,1994,1995,1996,1997,1998,1999,2000,2001,2002,2003,2004,2005],"labels":false,"domain":false}},
   "y":{"datum":4.89,"type":"quantitative","axis":{"title":null,"orient":"left","values":[1,1.5,2,2.5,3,3.5,4,4.5,5,5.5],"labels":false,"domain":false}},
   "text":{"value":"Income Elasticity"}}}
]},
{"title":{"text":"AGGREGATE","anchor":"start","frame":"group","dx":12},"width":171,"height":172,"resolve":{"axis":{"x":"independent","y":"independent"}},"layer":[
 {"data":{"name":"d"},"transform":[{"filter":"datum.panel == 'C'"}],"mark":{"type":"line","color":"black","strokeWidth":2.8,"strokeJoin":"round","strokeCap":"round"},
  "encoding":{"x":{"field":"year","type":"quantitative","scale":{"domain":[1991.67,2005.54],"nice":false,"zero":false},"axis":{"title":null,"orient":"bottom","values":[1995,2000,2005],"format":"d","tickSize":-4,"labelPadding":9,"labelFlush":10,"labelFlushOffset":8}},
   "y":{"field":"value","type":"quantitative","scale":{"domain":[0.83,5.5],"nice":false,"zero":false},"axis":{"title":null,"orient":"left","values":[1,2,3,4,5],"format":"d","tickSize":-4,"labelPadding":9}},
   "detail":{"field":"band"}}},
 {"data":{"values":[{}]},"mark":{"type":"text","align":"left","baseline":"middle","fontSize":10.5,"font":"Liberation Serif","color":"black"},
  "encoding":{"x":{"datum":1994.72,"type":"quantitative","axis":{"title":null,"orient":"bottom","values":[1992,1993,1994,1995,1996,1997,1998,1999,2000,2001,2002,2003,2004,2005],"labels":false,"domain":false}},
   "y":{"datum":5.27,"type":"quantitative","axis":{"title":null,"orient":"left","values":[1,1.5,2,2.5,3,3.5,4,4.5,5,5.5],"labels":false,"domain":false}},
   "text":{"value":"Income Elasticity"}}}
]},
{"width":171,"height":171,"resolve":{"axis":{"x":"independent","y":"independent"}},"layer":[
 {"data":{"name":"d"},"transform":[{"filter":"datum.panel == 'D'"}],"mark":{"type":"line","color":"black","strokeWidth":2.8,"strokeJoin":"round","strokeCap":"round"},
  "encoding":{"x":{"field":"year","type":"quantitative","scale":{"domain":[1991.67,2005.54],"nice":false,"zero":false},"axis":{"title":null,"orient":"bottom","values":[1995,2000,2005],"format":"d","tickSize":-4,"labelPadding":9,"labelFlush":10,"labelFlushOffset":8}},
   "y":{"field":"value","type":"quantitative","scale":{"domain":[-3.57,-0.22],"nice":false,"zero":false},"axis":{"title":null,"orient":"left","values":[-3,-2,-1],"format":"d","tickSize":-4,"labelPadding":9}},
   "detail":{"field":"band"}}},
 {"data":{"values":[{}]},"mark":{"type":"text","align":"left","baseline":"middle","fontSize":10,"font":"Liberation Serif","color":"black"},
  "encoding":{"x":{"datum":1993.19,"type":"quantitative","axis":{"title":null,"orient":"bottom","values":[1992,1993,1994,1995,1996,1997,1998,1999,2000,2001,2002,2003,2004,2005],"labels":false,"domain":false}},
   "y":{"datum":-0.33,"type":"quantitative","axis":{"title":null,"orient":"left","values":[-3.4,-3.2,-3,-2.8,-2.6,-2.4,-2.2,-2,-1.8,-1.6,-1.4,-1.2,-1,-0.8,-0.6,-0.4],"labels":false,"domain":false}},
   "text":{"value":"Exchange−rate Elasticity"}}}
]},
{"width":171,"height":171,"resolve":{"axis":{"x":"independent","y":"independent"}},"layer":[
 {"data":{"name":"d"},"transform":[{"filter":"datum.panel == 'E'"}],"mark":{"type":"line","color":"black","strokeWidth":2.8,"strokeJoin":"round","strokeCap":"round"},
  "encoding":{"x":{"field":"year","type":"quantitative","scale":{"domain":[1991.67,2005.54],"nice":false,"zero":false},"axis":{"title":null,"orient":"bottom","values":[1995,2000,2005],"format":"d","tickSize":-4,"labelPadding":9,"labelFlush":10,"labelFlushOffset":8}},
   "y":{"field":"value","type":"quantitative","scale":{"domain":[-3.57,-0.22],"nice":false,"zero":false},"axis":{"title":null,"orient":"left","values":[-3,-2,-1],"format":"d","tickSize":-4,"labelPadding":9}},
   "detail":{"field":"band"}}},
 {"data":{"values":[{}]},"mark":{"type":"text","align":"left","baseline":"middle","fontSize":10,"font":"Liberation Serif","color":"black"},
  "encoding":{"x":{"datum":1992.32,"type":"quantitative","axis":{"title":null,"orient":"bottom","values":[1992,1993,1994,1995,1996,1997,1998,1999,2000,2001,2002,2003,2004,2005],"labels":false,"domain":false}},
   "y":{"datum":-0.38,"type":"quantitative","axis":{"title":null,"orient":"left","values":[-3.4,-3.2,-3,-2.8,-2.6,-2.4,-2.2,-2,-1.8,-1.6,-1.4,-1.2,-1,-0.8,-0.6,-0.4],"labels":false,"domain":false}},
   "text":{"value":"Exchange−rate Elasticity"}}}
]},
{"width":171,"height":171,"resolve":{"axis":{"x":"independent","y":"independent"}},"layer":[
 {"data":{"name":"d"},"transform":[{"filter":"datum.panel == 'F'"}],"mark":{"type":"line","color":"black","strokeWidth":2.8,"strokeJoin":"round","strokeCap":"round"},
  "encoding":{"x":{"field":"year","type":"quantitative","scale":{"domain":[1991.67,2005.54],"nice":false,"zero":false},"axis":{"title":null,"orient":"bottom","values":[1995,2000,2005],"format":"d","tickSize":-4,"labelPadding":9,"labelFlush":10,"labelFlushOffset":8}},
   "y":{"field":"value","type":"quantitative","scale":{"domain":[-3.57,-0.22],"nice":false,"zero":false},"axis":{"title":null,"orient":"left","values":[-3,-2,-1],"format":"d","tickSize":-4,"labelPadding":9}},
   "detail":{"field":"band"}}},
 {"data":{"values":[{}]},"mark":{"type":"text","align":"left","baseline":"middle","fontSize":10,"font":"Liberation Serif","color":"black"},
  "encoding":{"x":{"datum":1992.31,"type":"quantitative","axis":{"title":null,"orient":"bottom","values":[1992,1993,1994,1995,1996,1997,1998,1999,2000,2001,2002,2003,2004,2005],"labels":false,"domain":false}},
   "y":{"datum":-0.37,"type":"quantitative","axis":{"title":null,"orient":"left","values":[-3.4,-3.2,-3,-2.8,-2.6,-2.4,-2.2,-2,-1.8,-1.6,-1.4,-1.2,-1,-0.8,-0.6,-0.4],"labels":false,"domain":false}},
   "text":{"value":"Exchange−rate Elasticity"}}}
]}
],
"config":{
 "view":{"stroke":null},
 "font":"Liberation Serif",
 "title":{"font":"Liberation Serif","fontSize":11.5,"fontWeight":"normal","anchor":"start","offset":-3,"color":"black"},
 "axis":{"grid":false,"domainColor":"#9a9a9a","tickColor":"#9a9a9a","tickSize":-3,"labelFont":"Liberation Serif","labelFontSize":12,"labelColor":"black","labelPadding":8,"labelOverlap":false},
 "axisY":{"minExtent":17,"maxExtent":17}
}
}
